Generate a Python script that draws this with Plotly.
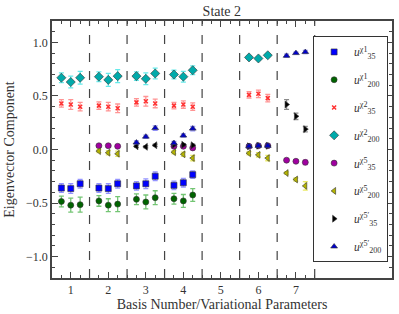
import plotly.graph_objects as go

groups = [1, 2, 3, 4, 5, 6, 7]
xtick_labels = ["1", "2", "3", "4", "5", "6", "7"]
yticks = [-1.0, -0.5, 0.0, 0.5, 1.0]
ytick_labels = ["\u22121.0", "\u22120.5", "0.0", "0.5", "1.0"]

# values per group (3 variational parameter points per group), None = absent
u35_chi1 = [[-0.36, -0.365, -0.32], [-0.36, -0.365, -0.32], [-0.34, -0.32, -0.25],
            [-0.335, -0.31, -0.235], None, None, None]
u35_chi1_err = [[0.04, 0.045, 0.04], [0.04, 0.045, 0.04], [0.04, 0.045, 0.04],
                [0.04, 0.04, 0.035], None, None, None]
u200_chi1 = [[-0.485, -0.52, -0.515], [-0.48, -0.52, -0.51], [-0.465, -0.49, -0.45],
             [-0.46, -0.48, -0.425], None, None, None]
u200_chi1_err = [[0.05, 0.065, 0.07], [0.05, 0.06, 0.07], [0.05, 0.065, 0.065],
                 [0.05, 0.06, 0.06], None, None, None]
u35_chi2 = [[0.43, 0.42, 0.40], [0.41, 0.40, 0.385], [0.44, 0.45, 0.43],
            [0.41, 0.42, 0.40], None, [0.51, 0.52, 0.48], None]
u35_chi2_err = [[0.035, 0.045, 0.04], [0.035, 0.04, 0.04], [0.035, 0.045, 0.04],
                [0.03, 0.035, 0.035], None, [0.03, 0.035, 0.035], None]
u200_chi2 = [[0.67, 0.63, 0.67], [0.68, 0.65, 0.685], [0.685, 0.66, 0.71],
             [0.70, 0.68, 0.74], None, [0.86, 0.85, 0.88], None]
u200_chi2_err = [[0.045, 0.055, 0.06], [0.045, 0.06, 0.06], [0.04, 0.055, 0.05],
                 [0.04, 0.05, 0.04], None, [0.015, 0.015, 0.015], None]
u35_chi5 = [None, [0.035, 0.035, 0.03], None, [0.03, 0.03, 0.015], None,
            [0.03, 0.035, 0.035], [-0.10, -0.11, -0.12]]
u35_chi5_err = [None, [0.01, 0.01, 0.01], None, [0.01, 0.01, 0.015], None,
                [0.015, 0.015, 0.015], [0.01, 0.01, 0.02]]
u200_chi5 = [None, [-0.015, -0.03, -0.04], None, [-0.025, -0.045, -0.08], None,
             [-0.035, -0.05, -0.08], [-0.22, -0.28, -0.34]]
u200_chi5_err = [None, [0.015, 0.02, 0.025], None, [0.015, 0.02, 0.025], None,
                 [0.015, 0.02, 0.025], [0.01, 0.015, 0.04]]
u35_chi5p = [None, None, [0.03, 0.025, 0.04], [0.045, 0.045, 0.04], None,
             [0.03, 0.035, 0.035], [0.42, 0.31, 0.19]]
u35_chi5p_err = [None, None, [0.01, 0.01, 0.01], [0.01, 0.01, 0.01], None,
                 [0.01, 0.01, 0.01], [0.045, 0.03, 0.025]]
u200_chi5p = [None, None, [0.065, 0.12, 0.20], [0.06, 0.13, 0.195], None,
              [0.03, 0.035, 0.035], [0.875, 0.90, 0.91]]
u200_chi5p_err = [None, None, [0.015, 0.015, 0.02], [0.015, 0.015, 0.02], None,
                  [0.015, 0.015, 0.015], [0.015, 0.01, 0.015]]

offsets = [-0.25, 0.0, 0.25]

series = [
    ("<i>u</i><sup>\u03c71</sup><sub>35</sub>", u35_chi1, u35_chi1_err,
     "square", "#0000ff", "rgba(60,60,255,0.55)", 6),
    ("<i>u</i><sup>\u03c71</sup><sub>200</sub>", u200_chi1, u200_chi1_err,
     "circle", "#006400", "rgba(0,150,0,0.55)", 6),
    ("<i>u</i><sup>\u03c72</sup><sub>35</sub>", u35_chi2, u35_chi2_err,
     "x-thin", "#ff3030", "rgba(255,60,60,0.55)", 4),
    ("<i>u</i><sup>\u03c72</sup><sub>200</sub>", u200_chi2, u200_chi2_err,
     "diamond", "#00aaaa", "rgba(0,220,220,0.6)", 7),
    ("<i>u</i><sup>\u03c75</sup><sub>35</sub>", u35_chi5, u35_chi5_err,
     "circle", "#a000a0", "rgba(230,0,230,0.5)", 6),
    ("<i>u</i><sup>\u03c75</sup><sub>200</sub>", u200_chi5, u200_chi5_err,
     "triangle-left", "#b5b500", "rgba(220,220,0,0.6)", 6),
    ("<i>u</i><sup>\u03c75\u2032</sup><sub>35</sub>", u35_chi5p, u35_chi5p_err,
     "triangle-right", "#000000", "rgba(60,60,60,0.6)", 6),
    ("<i>u</i><sup>\u03c75\u2032</sup><sub>200</sub>", u200_chi5p, u200_chi5p_err,
     "triangle-up", "#0000cc", "rgba(60,60,255,0.55)", 6),
]

FONT = "Liberation Serif"

fig = go.Figure()
for i, (name, vals, errs, sym, col, ecol, size) in enumerate(series):
    pts = []
    for g, v, e in zip(groups, vals, errs):
        if v is None:
            continue
        for o, vv, ee in zip(offsets, v, e):
            # black series drawn with left-pointing triangles in basis 3
            s = "triangle-left" if (sym == "triangle-right" and g == 3) else sym
            pts.append((g + o, vv, ee, s))
    # keep the series' main symbol first (legend uses the first point's symbol)
    pts.sort(key=lambda p: p[3] != sym)
    xs = [p[0] for p in pts]
    ys = [p[1] for p in pts]
    es = [p[2] for p in pts]
    syms = [p[3] for p in pts]
    mline = dict(color="#333333", width=0.6) if sym != "x-thin" else dict(color=col, width=1.5)
    fig.add_trace(go.Scatter(
        x=xs, y=ys, mode="markers", name=name, legendgroup=f"g{i}",
        marker=dict(symbol=syms, color=col, size=size, line=mline),
        error_y=dict(type="data", array=es, visible=True, color=ecol,
                     thickness=1.3, width=2.5),
    ))

for xv in [1.5, 2.5, 3.5, 4.5, 5.5, 6.5, 7.5]:
    fig.add_shape(type="line", x0=xv, x1=xv, y0=0, y1=1, xref="x", yref="paper",
                  line=dict(color="#444444", width=1.2, dash="dash"), layer="below")

axis_font = dict(family=FONT, size=14, color="#333333")

fig.update_layout(
    width=399, height=314,
    margin=dict(l=52, r=7, t=21, b=36, autoexpand=False),
    paper_bgcolor="white", plot_bgcolor="white",
    font=dict(family=FONT, size=12, color="#333333"),
    title=dict(text="State 2", x=0.556, xanchor="center", y=0.965, yanchor="middle",
               font=dict(family=FONT, size=14, color="#333333")),
    showlegend=True,
    legend=dict(x=0.768, xanchor="left", y=0.94, yanchor="top",
                bordercolor="#333333", borderwidth=1, bgcolor="white",
                font=dict(family=FONT, size=11.5, color="#333333"), itemwidth=30,
                tracegroupgap=8.8),
)
fig.update_xaxes(
    range=[0.5, 9.56], tickvals=groups, ticktext=xtick_labels,
    ticks="inside", ticklen=6, tickcolor="#444444", mirror="ticks",
    showline=True, linecolor="#444444", linewidth=1.5, showgrid=False, zeroline=False,
    minor=dict(tickvals=[0.75, 1.25, 1.5, 1.75, 2.25, 2.5, 2.75, 3.25, 3.5, 3.75, 4.25, 4.5,
                         4.75, 5.25, 5.5, 5.75, 6.25, 6.5, 6.75, 7.25, 7.5],
               ticks="inside", ticklen=3, tickcolor="#444444"),
    title=dict(text="Basis Number/Variational Parameters", font=axis_font, standoff=0),
    tickfont=dict(family=FONT, size=12),
)
fig.update_yaxes(
    range=[-1.2, 1.2], tickvals=yticks, ticktext=ytick_labels,
    ticks="inside", ticklen=6, tickcolor="#444444", mirror="ticks",
    showline=True, linecolor="#444444", linewidth=1.5, showgrid=False, zeroline=False,
    minor=dict(dtick=0.1, ticks="inside", ticklen=3, tickcolor="#444444"),
    title=dict(text="Eigenvector Component", font=axis_font, standoff=8),
    tickfont=dict(family=FONT, size=12),
)

fig.write_html("out.html", config={"displayModeBar": False},
               post_script="document.body.style.margin='0';")
